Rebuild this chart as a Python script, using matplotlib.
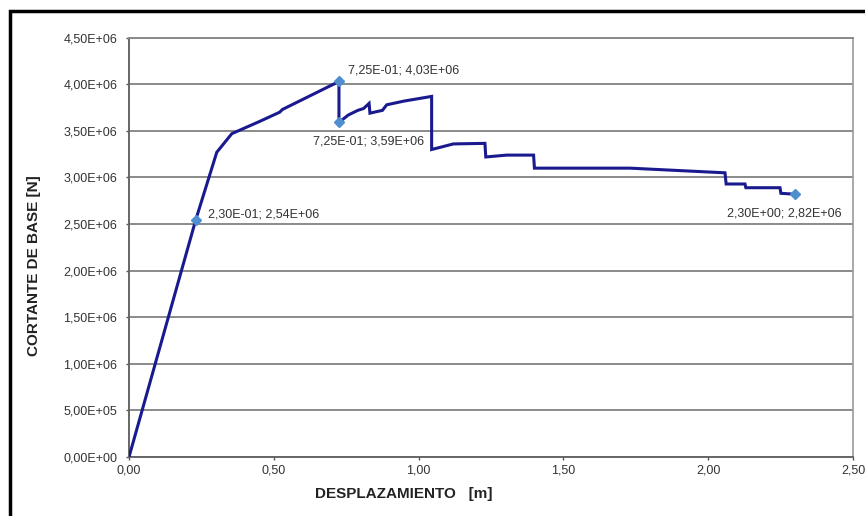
import matplotlib
matplotlib.use("Agg")
import matplotlib.pyplot as plt
from matplotlib.patches import Rectangle

plt.rcParams['font.family'] = ['Liberation Sans', 'DejaVu Sans']

# Pushover curve data (displacement [m], base shear [N])
desplazamiento = [0.0, 0.23, 0.303, 0.355, 0.45, 0.52, 0.53, 0.725, 0.725, 0.757, 0.79, 0.81,
                  0.829, 0.832, 0.86, 0.875, 0.89, 0.95, 1.045, 1.045, 1.12, 1.229, 1.232,
                  1.304, 1.397, 1.400, 1.73, 2.058, 2.062, 2.127, 2.130, 2.248, 2.251, 2.30]
cortante = [0.0, 2.54e6, 3.27e6, 3.47e6, 3.60e6, 3.70e6, 3.73e6, 4.03e6, 3.59e6, 3.67e6, 3.72e6, 3.74e6,
            3.795e6, 3.69e6, 3.71e6, 3.72e6, 3.78e6, 3.82e6, 3.87e6, 3.30e6, 3.36e6, 3.366e6, 3.22e6,
            3.24e6, 3.24e6, 3.10e6, 3.10e6, 3.05e6, 2.93e6, 2.93e6, 2.89e6, 2.89e6, 2.83e6, 2.82e6]

# Labelled points
pt_x = [0.23, 0.725, 0.725, 2.30]
pt_y = [2.54e6, 4.03e6, 3.59e6, 2.82e6]
pt_labels = ["2,30E-01; 2,54E+06", "7,25E-01; 4,03E+06", "7,25E-01; 3,59E+06", "2,30E+00; 2,82E+06"]

xticks = [0.0, 0.5, 1.0, 1.5, 2.0, 2.5]
xtick_labels = ["0,00", "0,50", "1,00", "1,50", "2,00", "2,50"]
yticks = [0, 5e5, 1e6, 1.5e6, 2e6, 2.5e6, 3e6, 3.5e6, 4e6, 4.5e6]
ytick_labels = ["0,00E+00", "5,00E+05", "1,00E+06", "1,50E+06", "2,00E+06", "2,50E+06",
                "3,00E+06", "3,50E+06", "4,00E+06", "4,50E+06"]

fig = plt.figure(figsize=(8.65, 5.16), dpi=100)
ax = fig.add_axes([129/865, 1-457/516, (853-129)/865, (457-37.7)/516])

ax.set_xlim(0, 2.5)
ax.set_ylim(0, 4.5e6)
ax.set_yticks(yticks)
ax.set_yticklabels(ytick_labels, fontsize=9, color='#333333')
ax.set_xticks(xticks)
ax.set_xticklabels(xtick_labels, fontsize=9, color='#333333')
ax.yaxis.grid(True, color='#8a8a8a', linewidth=1.4)
ax.set_axisbelow(True)
ax.tick_params(axis='both', direction='out', length=2.5, width=1, color='#555555')
ax.tick_params(axis='y', pad=6)
ax.tick_params(axis='x', pad=3)

for side in ['left', 'bottom']:
    ax.spines[side].set_color('#666666')
    ax.spines[side].set_linewidth(1.4)
ax.spines['right'].set_color('#999999')
ax.spines['right'].set_linewidth(1.2)
ax.spines['top'].set_color('#8a8a8a')
ax.spines['top'].set_linewidth(1.4)

ax.plot(desplazamiento, cortante, color='#1a1a8f', linewidth=2.2, zorder=3, solid_joinstyle='miter')
ax.plot(pt_x, pt_y, linestyle='none', marker='D', markersize=5, color='#4f8fcf', zorder=4)

offsets = [(9, 4), (6.5, 8), (-19, -14), (-49, -14)]
for x, y, lab, (dx, dy) in zip(pt_x, pt_y, pt_labels, offsets):
    ax.annotate(lab, (x, y), xytext=(dx, dy), textcoords='offset points',
                ha='left', va='center', fontsize=9, color='#333333')

fig.text(34/865, 1-266/516, "CORTANTE DE BASE [N]", rotation=90, ha='center', va='center',
         fontsize=11, fontweight='bold', color='#222222')
fig.text(404/865, 1-494/516, "DESPLAZAMIENTO   [m]", ha='center', va='center',
         fontsize=11, fontweight='bold', color='#222222')

fig.patches.append(Rectangle((10/865, -0.1), 1.2, 1-11/516 + 0.1, transform=fig.transFigure,
                             fill=False, edgecolor='black', linewidth=2.5))

fig.savefig("out.png", dpi=100)
